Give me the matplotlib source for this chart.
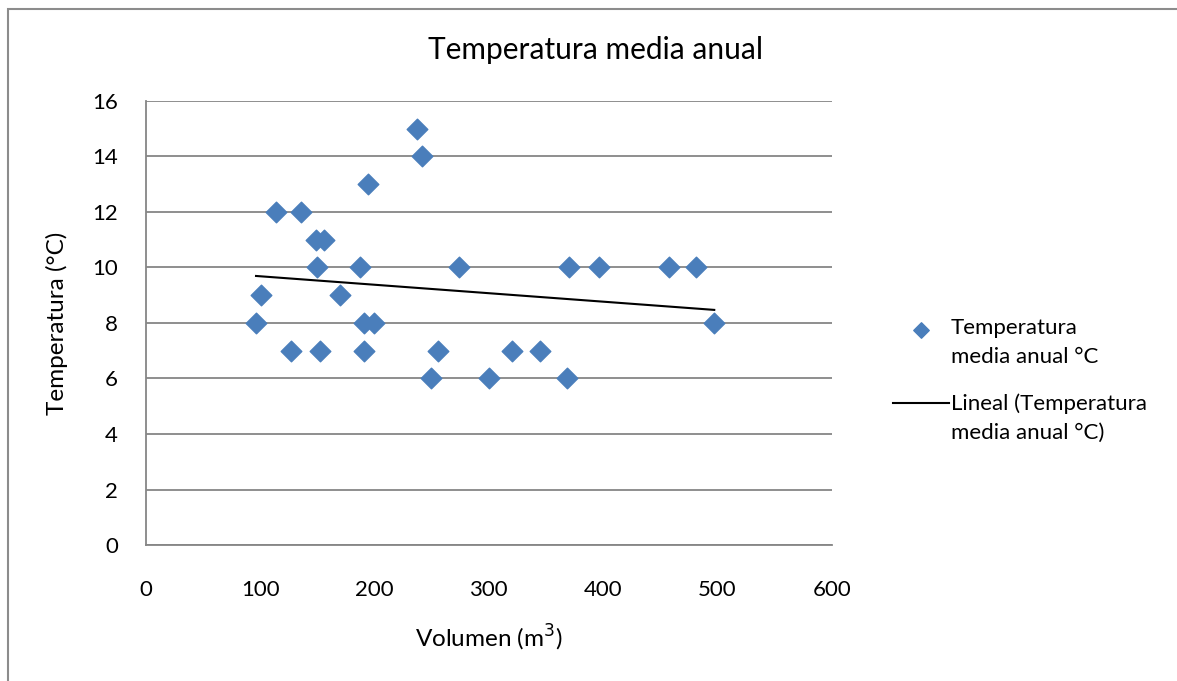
import matplotlib.pyplot as plt
import numpy as np
from matplotlib.patches import Rectangle

plt.rcParams['font.family'] = ['Lato', 'DejaVu Sans']

# valores
volumen = [96.5, 101.1, 113.7, 127.1, 135.8, 149.0, 156.2, 150.1, 152.5, 169.7,
           187.7, 194.2, 190.9, 199.7, 190.7, 237.0, 241.4, 249.3, 255.4, 273.8,
           300.3, 320.6, 345.1, 368.2, 370.5, 396.5, 457.7, 481.3, 497.3]
temperatura = [8, 9, 12, 7, 12, 11, 11, 10, 7, 9,
               10, 13, 8, 8, 7, 15, 14, 6, 7, 10,
               6, 7, 7, 6, 10, 10, 10, 10, 8]

x = np.array(volumen)
y = np.array(temperatura)

fig = plt.figure(figsize=(11.77, 6.81), dpi=100)
ax = fig.add_axes([0.1238, 0.1997, 0.5828, 0.652])

# borde del grafico
fig.patches.append(Rectangle((8 / 1177, -0.05), 1.2, 1 - 9 / 681 + 0.05,
                             transform=fig.transFigure, fill=False,
                             edgecolor='#8c8c8c', linewidth=1.5))

ax.scatter(x, y, marker='D', s=110, color='#4A7EBB', zorder=3,
           label='Temperatura\nmedia anual °C')

# linea de tendencia lineal
m, b = np.polyfit(x, y, 1)
xs = np.array([x.min(), x.max()])
ax.plot(xs, m * xs + b, color='black', linewidth=1.5, zorder=4,
        label='Lineal (Temperatura\nmedia anual °C)')

ax.set_xlim(0, 600)
ax.set_ylim(0, 16)
ax.set_xticks(range(0, 601, 100))
ax.set_yticks(range(0, 17, 2))
ax.yaxis.grid(True, color='#868686', linewidth=1.3)
ax.set_axisbelow(True)
ax.tick_params(length=0, labelsize=16)
ax.tick_params(axis='x', pad=25)
ax.tick_params(axis='y', pad=20)
for s in ['top', 'right']:
    ax.spines[s].set_visible(False)
for s in ['left', 'bottom']:
    ax.spines[s].set_color('#868686')
    ax.spines[s].set_linewidth(1.3)

ax.set_xlabel('Volumen (m$^3$)', fontsize=17.5, labelpad=17)
ax.set_ylabel('Temperatura (°C)', fontsize=17.5, labelpad=17)
fig.text(595 / 1177, 1 - 50 / 681, 'Temperatura media anual', fontsize=21.5,
         ha='center', va='center')

leg = ax.legend(loc='upper left', bbox_to_anchor=(893 / 1177, 1 - 318 / 681),
                bbox_transform=fig.transFigure, frameon=False, fontsize=16,
                handlelength=2.5, labelspacing=1.2, handletextpad=0.1,
                borderpad=0, borderaxespad=0, markerscale=0.75)
for t in leg.get_texts():
    t.set_linespacing(1.55)
# subir los simbolos de la leyenda a la primera linea del texto
shift = 10.8
for h in leg.legend_handles:
    if hasattr(h, 'set_offsets'):
        h.set_offsets(h.get_offsets() + np.array([0, shift]))
    else:
        h.set_ydata(np.asarray(h.get_ydata()) + shift)

fig.savefig('out.png', dpi=100)
